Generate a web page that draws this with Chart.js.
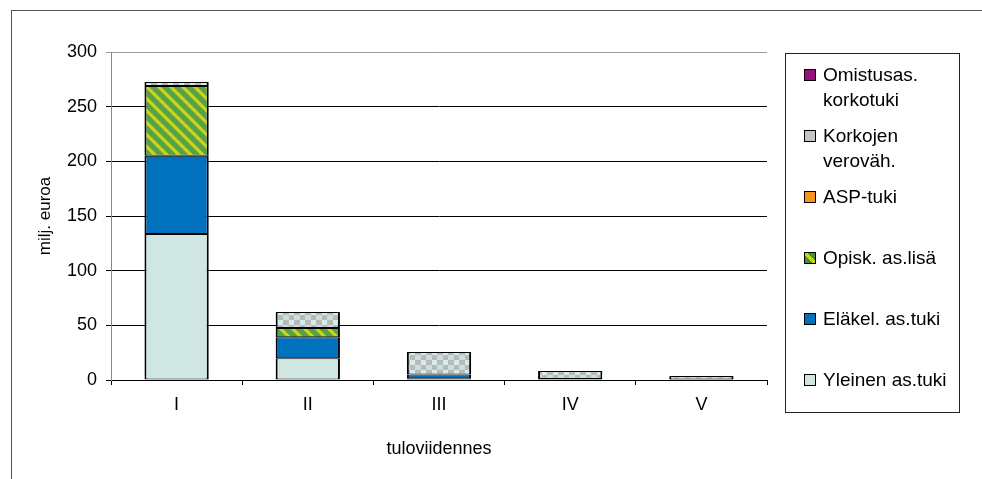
<!DOCTYPE html>
<html>
<head>
<meta charset="utf-8">
<script src="https://cdn.jsdelivr.net/npm/chart.js"></script>
<style>
  body{ margin:0; background:#fff; font-family:"Liberation Sans", Arial, sans-serif; }
  #wrap{ position:relative; width:982px; height:479px; }
  #frame{ position:absolute; left:11px; top:10px; right:-5px; bottom:-5px; border-left:1px solid #555; border-top:1px solid #555; }
  #legend{ position:absolute; left:785px; top:53px; width:173px; height:358px; border:1.5px solid #222; }
  #legend .item{ position:absolute; left:18px; font-size:19px; line-height:25px; color:#000; }
  #legend .sw{ position:absolute; left:0; top:7px; width:10px; height:10px; border:1px solid #000; }
  #legend .txt{ position:absolute; left:19px; white-space:nowrap; }
</style>
</head>
<body>
<div id="wrap">
  <div id="frame"></div>
  <canvas id="c" width="982" height="479"></canvas>
  <div id="legend"></div>
</div>
<script>
// data (milj. euroa)
const categories = ['I', 'II', 'III', 'IV', 'V'];
const yleinen   = [133.5, 20, 1.5, 0.5, 0.3];
const elakel    = [71.5, 19.2, 3.5, 0.4, 0.1];
const opisk     = [64, 8.3, 0, 0, 0];
const asp       = [0, 0, 0, 0, 0];
const korkojen  = [3.6, 14.6, 20.7, 7.3, 3.3];
const omistus   = [0, 0, 0, 0, 0];
const yTicks    = [0, 50, 100, 150, 200, 250, 300];

function stripePattern(){
  const s = 12, cv = document.createElement('canvas');
  cv.width = s; cv.height = s;
  const g = cv.getContext('2d');
  g.fillStyle = '#55a24a'; g.fillRect(0,0,s,s);
  g.strokeStyle = '#c9d41c'; g.lineWidth = 3.2;
  g.beginPath();
  g.moveTo(-2,-2); g.lineTo(s+2,s+2);
  g.moveTo(s-2,-2); g.lineTo(s+2,2);
  g.moveTo(-2,s-2); g.lineTo(2,s+2);
  g.stroke();
  return g.createPattern(cv, 'repeat');
}
function checkPattern(){
  const cv = document.createElement('canvas');
  cv.width = 11; cv.height = 10;
  const g = cv.getContext('2d');
  g.fillStyle = '#b9b9b9'; g.fillRect(0,0,11,10);
  g.fillStyle = '#d3ecec'; g.fillRect(3,0,5,5);
  g.fillStyle = '#c9dede'; g.fillRect(0,5,3,5); g.fillRect(8,5,3,5);
  return g.createPattern(cv, 'repeat');
}

const series = [
  {label:'Yleinen as.tuki', data:yleinen, bg:'#cfe6e3', sw:'#cfe6e3'},
  {label:'Eläkel. as.tuki', data:elakel, bg:'#0071bc', sw:'#0071bc'},
  {label:'Opisk. as.lisä', data:opisk, bg:stripePattern(), sw:'linear-gradient(45deg,#3f8f3c 38%,#c9d41c 38%,#c9d41c 62%,#3f8f3c 62%)'},
  {label:'ASP-tuki', data:asp, bg:'#f7941d', sw:'#f7941d'},
  {label:['Korkojen', 'veroväh.'], data:korkojen, bg:checkPattern(), sw:'#c2c4c4'},
  {label:['Omistusas.', 'korkotuki'], data:omistus, bg:'#990f80', sw:'#990f80'}
];

const font = {family:'"Liberation Sans", Arial, sans-serif', size:18};

new Chart(document.getElementById('c'), {
  type:'bar',
  data:{
    labels:categories,
    datasets:series.map(s => ({
      label:Array.isArray(s.label) ? s.label.join(' ') : s.label,
      data:s.data,
      backgroundColor:s.bg,
      borderColor:'#000',
      borderWidth:ctx => ctx.raw ? {left:2, right:2, top:1, bottom:1} : 0,
      borderSkipped:false,
      categoryPercentage:0.49,
      barPercentage:1
    }))
  },
  options:{
    responsive:false,
    animation:false,
    layout:{padding:{left:0, top:52, right:215, bottom:0}},
    plugins:{legend:{display:false}, tooltip:{enabled:false}},
    scales:{
      x:{
        stacked:true,
        afterFit:s => { s.height = 99; },
        grid:{offset:true, drawOnChartArea:false, color:'#000', tickLength:5},
        border:{color:'#000'},
        ticks:{color:'#000', font:font, padding:9},
        title:{display:true, text:'tuloviidennes', color:'#000', font:font, padding:{top:14, bottom:19}}
      },
      y:{
        stacked:true,
        min:0, max:300,
        afterFit:s => { s.width = 111; },
        afterBuildTicks:s => { s.ticks = yTicks.map(v => ({value:v})); },
        grid:{color:ctx => ctx.tick && ctx.tick.value === 300 ? '#999' : '#000', tickLength:5},
        border:{color:'#888'},
        ticks:{color:'#000', font:font, padding:9},
        title:{display:true, text:'milj. euroa', color:'#000', font:{family:font.family, size:17}, padding:{top:35, bottom:35}}
      }
    }
  }
});

// legend, top item = last series
const lg = document.getElementById('legend');
series.slice().reverse().forEach((s, i) => {
  const it = document.createElement('div');
  it.className = 'item';
  it.style.top = (7.5 + 61 * i) + 'px';
  const sw = document.createElement('div');
  sw.className = 'sw';
  sw.style.background = s.sw;
  const tx = document.createElement('div');
  tx.className = 'txt';
  tx.innerHTML = (Array.isArray(s.label) ? s.label : [s.label]).join('<br>');
  it.appendChild(sw); it.appendChild(tx);
  lg.appendChild(it);
});
</script>
</body>
</html>
